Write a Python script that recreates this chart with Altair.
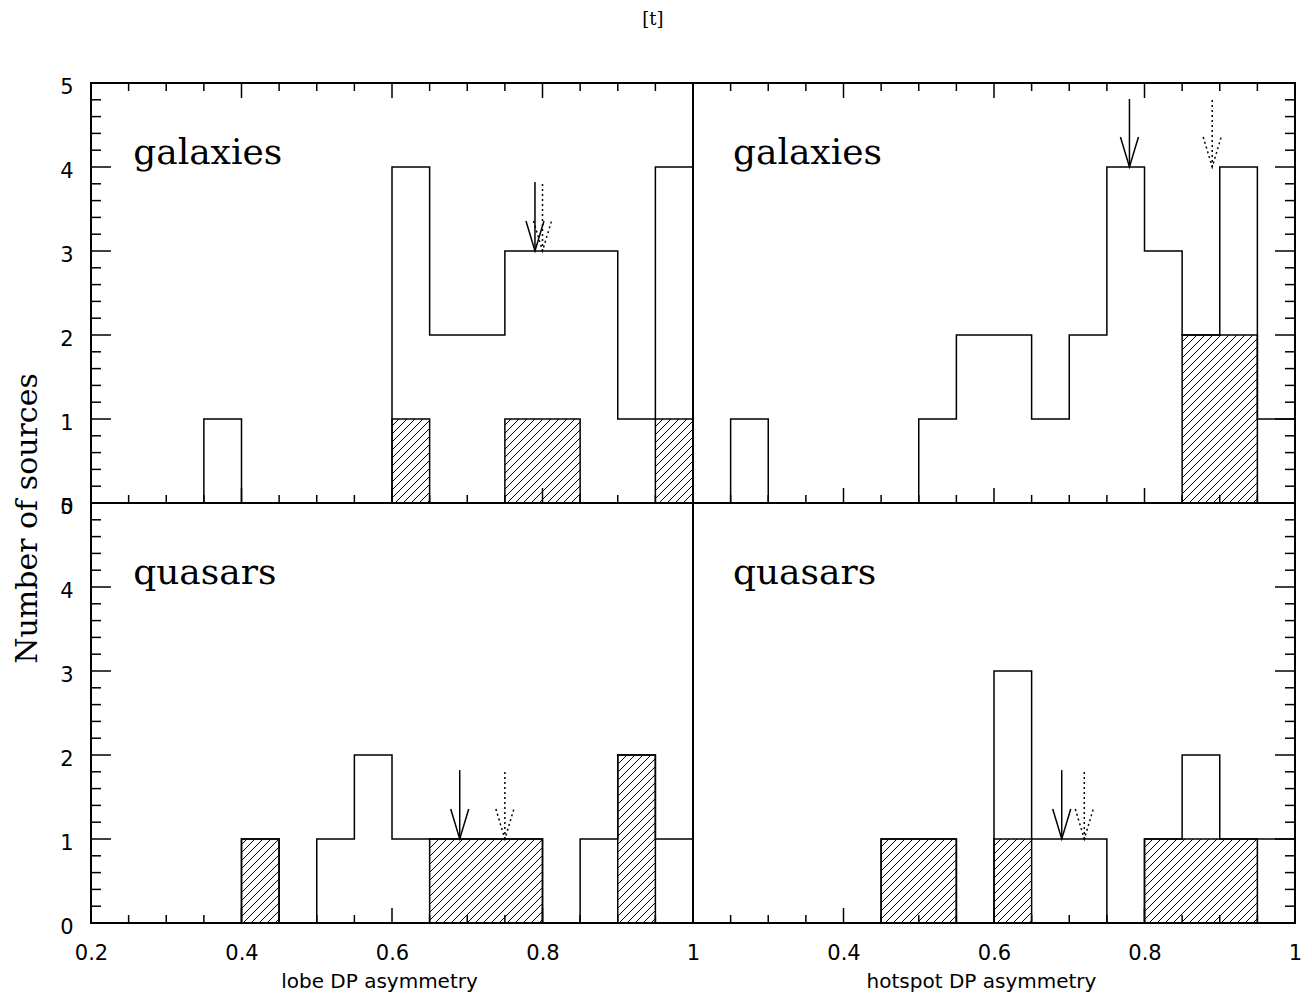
import math
import altair as alt
import pandas as pd

# ---------------- data ----------------
bin_left = [0.20, 0.25, 0.30, 0.35, 0.40, 0.45, 0.50, 0.55,
            0.60, 0.65, 0.70, 0.75, 0.80, 0.85, 0.90, 0.95]
bin_width = 0.05

lobe_gal_all = [0, 0, 0, 1, 0, 0, 0, 0, 4, 2, 2, 3, 3, 3, 1, 4]
lobe_gal_hatch = [0, 0, 0, 0, 0, 0, 0, 0, 1, 0, 0, 1, 1, 0, 0, 1]
hot_gal_all = [0, 1, 0, 0, 0, 0, 1, 2, 2, 1, 2, 4, 3, 2, 4, 1]
hot_gal_hatch = [0, 0, 0, 0, 0, 0, 0, 0, 0, 0, 0, 0, 0, 2, 2, 0]
lobe_qso_all = [0, 0, 0, 0, 1, 0, 1, 2, 1, 1, 1, 1, 0, 1, 2, 1]
lobe_qso_hatch = [0, 0, 0, 0, 1, 0, 0, 0, 0, 1, 1, 1, 0, 0, 2, 0]
hot_qso_all = [0, 0, 0, 0, 0, 1, 1, 0, 3, 1, 1, 0, 1, 2, 1, 1]
hot_qso_hatch = [0, 0, 0, 0, 0, 1, 1, 0, 1, 0, 0, 0, 1, 1, 1, 0]

# arrows: solid and dotted positions, tip (count level) and top of shaft
arrow_solid = [0.79, 0.78, 0.69, 0.69]
arrow_dotted = [0.80, 0.89, 0.75, 0.72]
arrow_tip = [3, 4, 1, 1]
arrow_top = [3.82, 4.81, 1.82, 1.82]

panel_labels = ["galaxies", "galaxies", "quasars", "quasars"]
x_titles = ["lobe DP asymmetry", "hotspot DP asymmetry"]
y_title = "Number of sources"

x_label_values = [[0.2, 0.4, 0.6, 0.8, 1.0], [0.4, 0.6, 0.8, 1.0]]
y_label_values = [0, 1, 2, 3, 4, 5]
x_major = [0.4, 0.6, 0.8]
x_minor = [0.25, 0.30, 0.35, 0.45, 0.50, 0.55, 0.65, 0.70, 0.75, 0.85, 0.90, 0.95]
y_major = [1, 2, 3, 4]
y_minor = [round(i * 0.2, 1) for i in range(1, 25) if i % 5 != 0]

# ---------------- layout ----------------
W, H = 602, 420
XMIN, XMAX, YMAX = 0.2, 1.0, 5
SX = W / (XMAX - XMIN)
SY = H / YMAX
HATCH_SPACING = 8  # px

xs = alt.Scale(domain=[XMIN, XMAX], nice=False, zero=False)
ys = alt.Scale(domain=[0, YMAX], nice=False, zero=False)

SANS = "DejaVu Sans"
SERIF = "DejaVu Serif"


def step_frame(counts):
    xs_ = bin_left + [bin_left[-1] + bin_width]
    ys_ = counts + [counts[-1]]
    return pd.DataFrame({"x": xs_, "n": ys_})


def hatch_frame(counts):
    rows = []
    for left, h in zip(bin_left, counts):
        if h <= 0:
            continue
        px0 = (left - XMIN) * SX
        px1 = (left + bin_width - XMIN) * SX
        ph = h * SY
        k0 = math.ceil((px0 - ph) / HATCH_SPACING)
        k1 = math.floor(px1 / HATCH_SPACING)
        for k in range(k0, k1 + 1):
            c = k * HATCH_SPACING
            xa = max(px0, c)
            xb = min(px1, c + ph)
            if xb - xa > 0.5:
                rows.append({"x": XMIN + xa / SX, "y": (xa - c) / SY,
                             "x2": XMIN + xb / SX, "y2": (xb - c) / SY})
    return pd.DataFrame(rows, columns=["x", "y", "x2", "y2"])


def panel(idx, all_counts, hatch_counts):
    row, col = divmod(idx, 2)

    if row == 1:
        x_axis = alt.Axis(
            values=x_label_values[col], format="~g", ticks=False, tickSize=0,
            domain=False, grid=False, labelFlush=False, labelOverlap=False,
            labelPadding=19, labelFont=SANS, labelFontSize=21, labelColor="black",
            title=x_titles[col], titleFont=SANS, titleFontSize=20,
            titleFontWeight="normal", titleColor="black",
            titleX=W / 2 - 13, titleY=48, titleBaseline="top",
        )
    else:
        x_axis = None

    if col == 0:
        if row == 0:
            y_axis = alt.Axis(
                values=y_label_values, ticks=False, tickSize=0, domain=False,
                grid=False, labelPadding=18, labelFont=SANS, labelFontSize=21,
                labelColor="black", labelOffset=4, labelOverlap=False,
                labelFlush=False,
                title=y_title, titleFont=SERIF, titleFontSize=30,
                titleFontWeight="normal", titleColor="black",
                titleX=-64, titleY=H + 15, titleAngle=270,
                titleAlign="center", titleBaseline="middle",
            )
        else:
            y_axis = alt.Axis(
                values=y_label_values, ticks=False, tickSize=0, domain=False,
                grid=False, labelPadding=18, labelFont=SANS, labelFontSize=21,
                labelColor="black", labelOffset=4, labelOverlap=False,
                labelFlush=False, title=None,
            )
    else:
        y_axis = None

    def X(field):
        return alt.X(field, type="quantitative", scale=xs, axis=x_axis)

    def Y(field):
        return alt.Y(field, type="quantitative", scale=ys, axis=y_axis)

    outline = alt.Chart(step_frame(all_counts)).mark_line(
        interpolate="step-after", color="black", strokeWidth=1.5
    ).encode(x=X("x"), y=Y("n"))

    hatched_outline = alt.Chart(step_frame(hatch_counts)).mark_line(
        interpolate="step-after", color="black", strokeWidth=1.5
    ).encode(x=X("x"), y=Y("n"))

    hatch = alt.Chart(hatch_frame(hatch_counts)).mark_rule(
        color="black", strokeWidth=1
    ).encode(x=X("x"), y=Y("y"), x2="x2:Q", y2="y2:Q")

    layers = [outline, hatched_outline, hatch]

    def xticks(values, y0, y1):
        return alt.Chart(pd.DataFrame({"v": values})).mark_rule(
            color="black", strokeWidth=1.5
        ).encode(x=X("v"), y=alt.value(y0), y2=alt.value(y1))

    def yticks(values, x0, x1):
        return alt.Chart(pd.DataFrame({"v": values})).mark_rule(
            color="black", strokeWidth=1.5
        ).encode(y=Y("v"), x=alt.value(x0), x2=alt.value(x1))

    # tick marks pointing inward
    layers.append(xticks(x_major, H, H - 15))
    layers.append(xticks(x_minor, H, H - 8))
    if row == 0:
        layers.append(xticks(x_major, 0, 15))
        layers.append(xticks(x_minor, 0, 8))
    if col == 0:
        layers.append(yticks(y_major, 0, 20))
        layers.append(yticks(y_minor, 0, 10))
    else:
        layers.append(yticks(y_major, W, W - 20))
        layers.append(yticks(y_minor, W, W - 10))

    # arrows
    arr = pd.DataFrame({
        "x": [arrow_solid[idx], arrow_dotted[idx]],
        "tip": [arrow_tip[idx], arrow_tip[idx]],
        "top": [arrow_top[idx], arrow_top[idx]],
        "kind": ["solid", "dotted"],
    })
    for kind, dash in (("solid", None), ("dotted", [2, 3])):
        rule_kw = dict(color="black", strokeWidth=1.5)
        head_kw = dict(shape="M-0.3,-1L0,0L0.3,-1", size=3600, filled=False,
                       color="black", strokeWidth=1.5, opacity=1)
        if dash is not None:
            rule_kw["strokeDash"] = dash
            head_kw["strokeDash"] = dash
        sub = arr[arr["kind"] == kind]
        layers.append(alt.Chart(sub).mark_rule(**rule_kw).encode(
            x=X("x"), y=Y("tip"), y2="top:Q"))
        layers.append(alt.Chart(sub).mark_point(**head_kw).encode(
            x=X("x"), y=Y("tip")))

    # panel label
    lab = pd.DataFrame({"x": [0.256 if col == 0 else 0.253], "y": [4.03],
                        "t": [panel_labels[idx]]})
    layers.append(alt.Chart(lab).mark_text(
        align="left", baseline="alphabetic", font=SERIF, fontSize=36,
        color="black"
    ).encode(x=X("x"), y=Y("y"), text="t:N"))

    return alt.layer(*layers).properties(width=W, height=H)


panels = [
    panel(0, lobe_gal_all, lobe_gal_hatch),
    panel(1, hot_gal_all, hot_gal_hatch),
    panel(2, lobe_qso_all, lobe_qso_hatch),
    panel(3, hot_qso_all, hot_qso_hatch),
]

chart = alt.concat(
    *panels, columns=2, spacing=0, bounds="flush",
    title=alt.TitleParams("[t]", font=SERIF, fontSize=18, fontWeight="normal",
                          color="black", anchor="middle", offset=46, dx=-4),
    padding={"left": 3, "top": 3, "right": 0, "bottom": 0},
).configure_view(stroke="black", strokeWidth=2)

chart.save("out.html", embed_options={"renderer": "svg", "actions": False})
